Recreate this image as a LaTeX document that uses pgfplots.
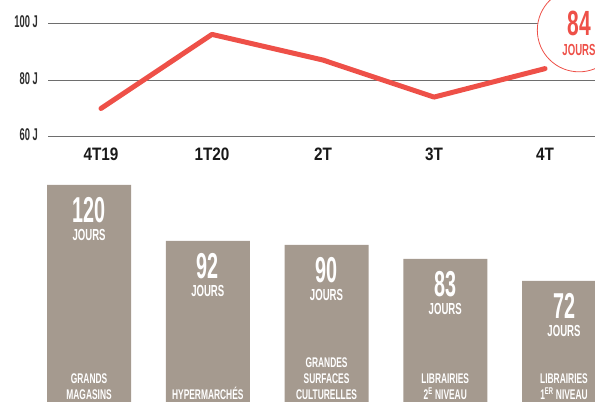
\documentclass[border=0pt]{standalone}
\usepackage{pgfplots}
\pgfplotsset{compat=1.18}
\usepackage{fontspec}
\setmainfont{Liberation Sans}
\newfontfamily\cnd{Liberation Sans}[FakeStretch=0.6]
\newfontfamily\cndn{Liberation Sans}[FakeStretch=0.55]
\newfontfamily\cndw{Liberation Sans}[FakeStretch=0.85]
\definecolor{redline}{HTML}{EE5048}
\definecolor{barcol}{HTML}{A59A8F}
\definecolor{gridcol}{HTML}{6E6E6E}
\definecolor{tickcol}{HTML}{2E2E2E}

\pgfplotstableread{
x y
0 70
1 96
2 87
3 74
4 84
}\trend

\pgfplotstableread{
x y
0 120
1 92
2 90
3 83
4 72
}\circuits

\begin{document}
\begin{tikzpicture}[x=1pt,y=1pt]
\useasboundingbox (0,0) rectangle (595,402);

% ---- top line chart ----
\begin{axis}[
  at={(48pt,265pt)}, anchor=south west,
  scale only axis, width=547pt, height=114pt,
  xmin=-0.477, xmax=4.45, ymin=60, ymax=100,
  clip=false,
  axis line style={draw=none},
  tick style={draw=none},
  ytick={60,80,100},
  yticklabels={60 J,80 J,100 J},
  yticklabel style={font=\cndn\bfseries\fontsize{17}{17}\selectfont, color=tickcol,
     anchor=base east, inner sep=0pt, xshift=-10pt, yshift=-4pt},
  xtick={0,1,2,3,4},
  xticklabels={4T19,1T20,2T,3T,4T},
  xticklabel style={font=\cndw\bfseries\fontsize{18}{18}\selectfont, color=black!90,
     anchor=base, inner sep=0pt, yshift=-24pt},
  ymajorgrids,
  grid style={line width=1pt, color=gridcol},
]
\addplot[color=redline, line width=5pt, line cap=round, line join=round] table[x=x,y=y] {\trend};
\draw[redline, line width=0.8pt, fill=white] (axis cs:4.306,97.5) circle[radius=41.7pt];
\node[anchor=base, inner sep=0pt, text=redline, font=\cnd\bfseries\fontsize{35}{35}\selectfont]
  at ([yshift=-5pt]axis cs:4.306,97.5) {84};
\node[anchor=base, inner sep=0pt, text=redline, font=\cnd\bfseries\fontsize{16}{16}\selectfont]
  at ([yshift=-25pt]axis cs:4.306,97.5) {JOURS};
\end{axis}

% ---- bottom bar chart ----
\begin{axis}[
  at={(0pt,0pt)}, anchor=south west,
  scale only axis, width=595pt, height=237pt,
  xmin=-0.75, xmax=4.261, ymin=11.5, ymax=130,
  axis line style={draw=none},
  tick style={draw=none},
  ytick=\empty,
  ybar, bar width=84pt, bar shift=0pt,
  /pgf/number format/assume math mode=true,
  xtick={0,1,2,3,4},
  xticklabels={{GRANDS\\MAGASINS},{HYPERMARCHÉS},{GRANDES\\SURFACES\\CULTURELLES},{LIBRAIRIES\\2\textsuperscript{E} NIVEAU},{LIBRAIRIES\\1\textsuperscript{ER} NIVEAU}},
  xticklabel style={font=\cnd\bfseries\fontsize{14}{16}\selectfont, text=white,
     align=center, anchor=south, inner sep=0pt, yshift=6pt},
  xticklabel pos=lower,
  axis on top,
]
\addplot[fill=barcol, draw=none,
  nodes near coords={\pgfmathprintnumber[assume math mode=true]{\pgfplotspointmeta}},
  every node near coord/.append style={anchor=base, inner sep=0pt, yshift=-38pt,
     text=white, font=\cndn\bfseries\fontsize{36}{36}\selectfont}]
  table[x=x,y=y] {\circuits};
\addplot[fill=none, draw=none,
  nodes near coords={JOURS},
  every node near coord/.append style={anchor=base, inner sep=0pt, yshift=-56pt,
     text=white, font=\cnd\bfseries\fontsize{16}{16}\selectfont}]
  table[x=x,y=y] {\circuits};
\end{axis}
\end{tikzpicture}
\end{document}
